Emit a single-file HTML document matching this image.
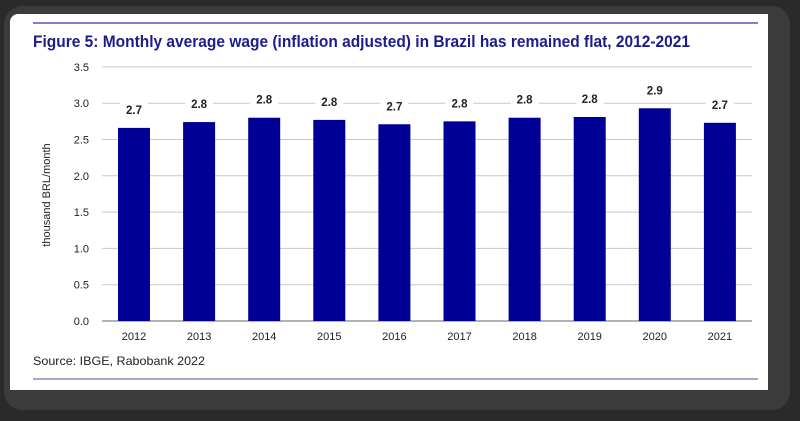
<!DOCTYPE html>
<html><head><meta charset="utf-8"><style>
html,body{margin:0;padding:0;background:#1e1e1e;}
#wrap{position:relative;width:800px;height:421px;overflow:hidden;background:#2a2a2a;}
#shadow{position:absolute;left:4px;top:6px;width:786px;height:404px;background:#3b3b3b;border-radius:18px;}
#card{position:absolute;left:10px;top:14px;width:758px;height:376px;background:#fff;border-radius:8px 0 0 0;}
svg{position:absolute;left:0;top:0;}
text{font-family:"Liberation Sans",sans-serif;}
</style></head><body>
<div id="wrap">
<div id="shadow"></div>
<div id="card"></div>
<svg id="chart" width="800" height="421">
<line x1="33" y1="23" x2="758" y2="23" stroke="#5555bb" stroke-width="1.5"/>
<text x="33" y="47" font-size="16.5" font-weight="bold" fill="#1c1c8c" textLength="657" lengthAdjust="spacingAndGlyphs">Figure 5: Monthly average wage (inflation adjusted) in Brazil has remained flat, 2012-2021</text>
<text transform="translate(50,195) rotate(-90)" text-anchor="middle" font-size="11" fill="#222">thousand BRL/month</text>
<g id="grid"></g><g id="bars"></g>
<text x="33" y="365" font-size="12" fill="#222" textLength="172" lengthAdjust="spacingAndGlyphs">Source: IBGE, Rabobank 2022</text>
<line x1="33" y1="379" x2="758" y2="379" stroke="#8888b8" stroke-width="1.5"/>
</svg>
</div>
<script>
const categories=["2012","2013","2014","2015","2016","2017","2018","2019","2020","2021"];
const values=[2.66,2.74,2.80,2.77,2.71,2.75,2.80,2.81,2.93,2.73];
const valueLabels=["2.7","2.8","2.8","2.8","2.7","2.8","2.8","2.8","2.9","2.7"];
const yTicks=[0,0.5,1,1.5,2,2.5,3,3.5];
const yTickLabels=["0.0","0.5","1.0","1.5","2.0","2.5","3.0","3.5"];
const NS="http://www.w3.org/2000/svg";
const y=v=>321-v*72.6;
const x=i=>134+i*65.1;
const grid=document.getElementById('grid'),bars=document.getElementById('bars');
function mk(tag,attrs,parent){const e=document.createElementNS(NS,tag);for(const k in attrs)e.setAttribute(k,attrs[k]);parent.appendChild(e);return e;}
yTicks.forEach((t,i)=>{
  const l=mk('line',{x1:102,x2:752,y1:y(t),y2:y(t),stroke:t===0?'#999':'#c8c8c8','stroke-width':t===0?1.5:1},grid);
  
  
  const tx=mk('text',{x:89,y:y(t)+4,'text-anchor':'end','font-size':11,fill:'#222'},grid);
  tx.textContent=yTickLabels[i];
  
  
});
categories.forEach((c,i)=>{
  const r=mk('rect',{x:x(i)-16,y:y(values[i]),width:32,height:y(0)-y(values[i]),fill:'#000096'},bars);
  
  
  const bg=mk('rect',{x:x(i)-14,y:y(values[i])-27,width:28,height:16,fill:'#fff'},bars);
  
  
  const v=mk('text',{x:x(i),y:y(values[i])-14,'text-anchor':'middle','font-size':11.5,'font-weight':'bold',fill:'#222'},bars);
  v.textContent=valueLabels[i];
  
  
  const t=mk('text',{x:x(i),y:340,'text-anchor':'middle','font-size':11,fill:'#222'},bars);
  t.textContent=c;
  
  
});
</script>
</body></html>
